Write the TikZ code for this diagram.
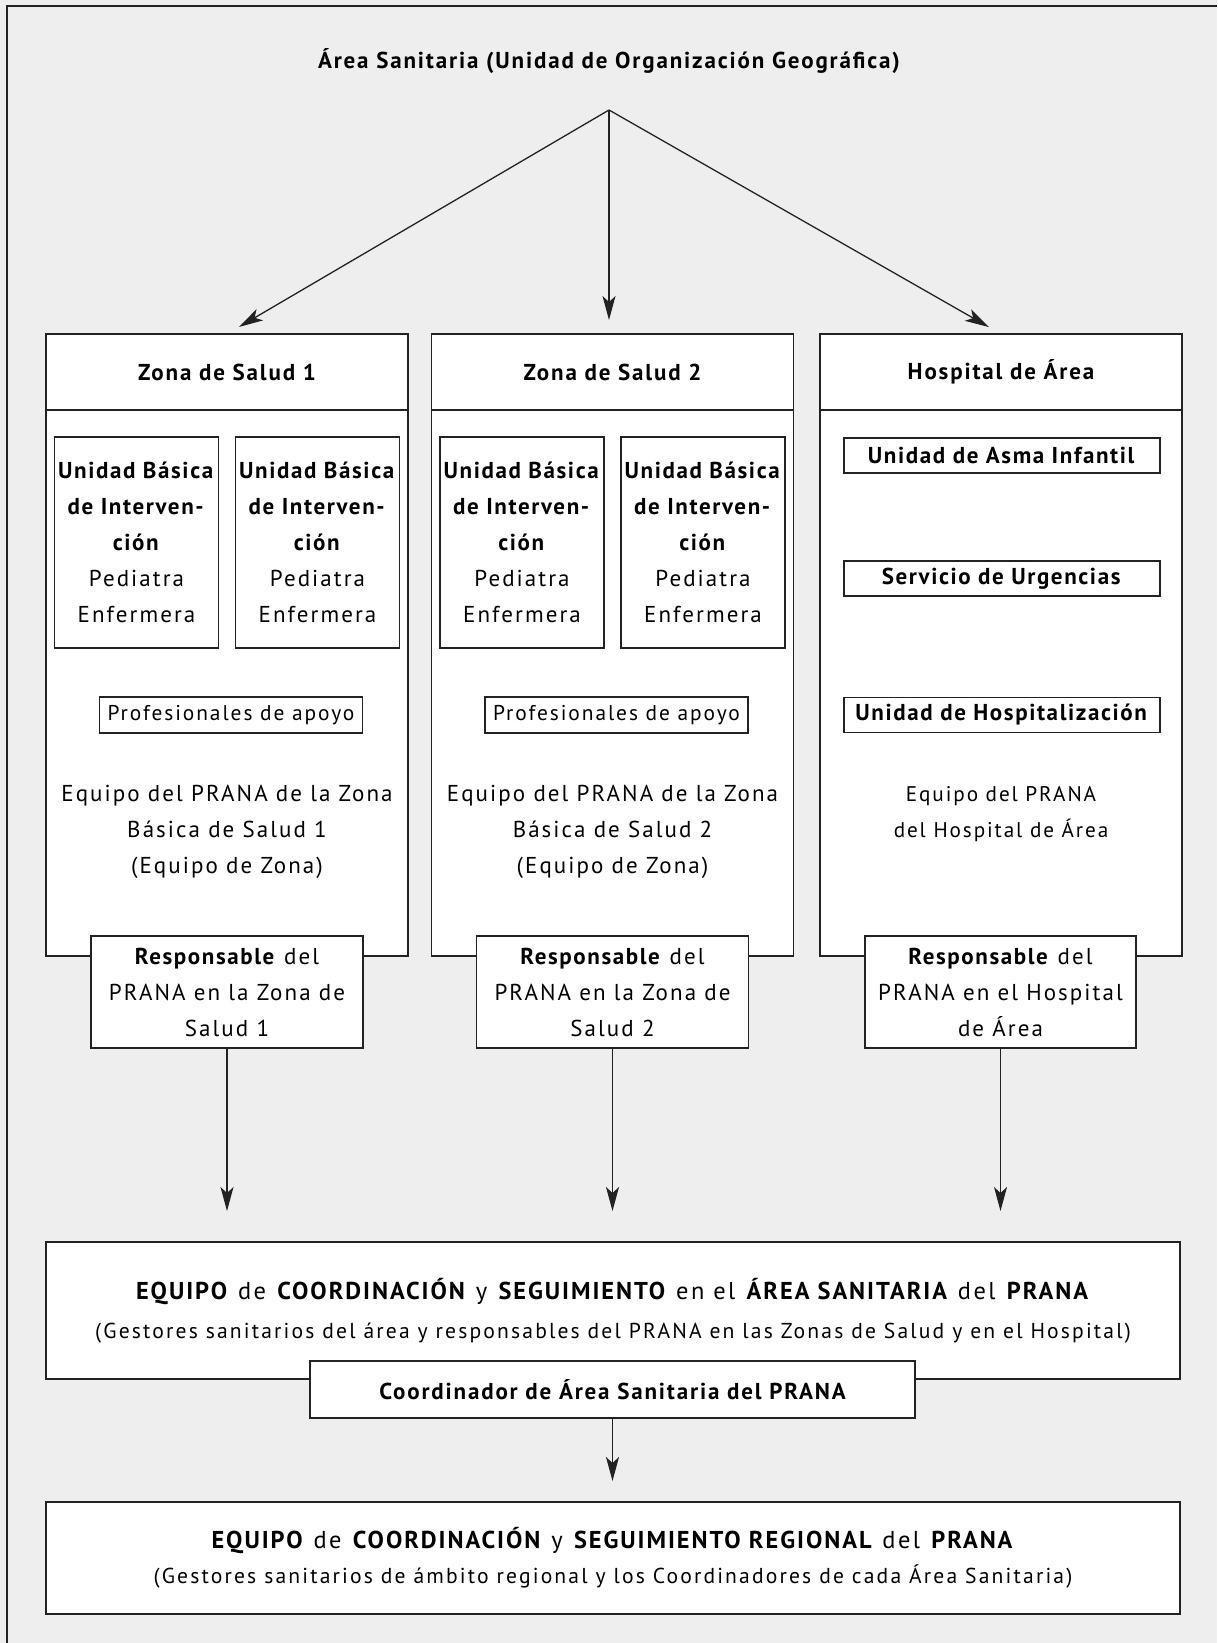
\documentclass[tikz,border=0pt]{standalone}
\usepackage{fontspec}
\setmainfont{PT Sans}
\newfontfamily\bodyfont{PT Sans}[LetterSpace=9, BoldFeatures={LetterSpace=7}]
\newfontfamily\headfont{PT Sans}[LetterSpace=10, BoldFeatures={LetterSpace=8}]
\usetikzlibrary{positioning,arrows.meta}
\definecolor{fondo}{HTML}{EEEEEE}
\definecolor{trazo}{HTML}{222222}

\begin{document}
\begin{tikzpicture}[%
                x=0.5pt, y=-0.5pt, line width=0.65pt,
                caja/.style={draw=trazo, fill=white, inner sep=0pt, outer sep=0pt, align=center},
                cuerpo/.style={font=\bodyfont\fontsize{11.5}{18}\selectfont, align=center},
                cabeza/.style={font=\headfont\bfseries\fontsize{11.5}{18}\selectfont},
                flecha/.style={draw=trazo, -{Stealth[length=12pt,width=6.5pt,inset=3pt]}}
        ]
            \fill [fondo] (0,0) rectangle (1217,1643);
            \useasboundingbox (0,0) rectangle (1217,1643);
            \draw [trazo] (7,1643) -- (7,6) -- (1217,6);

            \node [cabeza] (titulo) at (609,61) {Área Sanitaria (Unidad de Organización Geográfica)};
            \coordinate (vertice) at (609,110);

            % zonas y hospital
            \foreach \n/\x/\t in {1/227/Zona de Salud 1, 2/612.5/Zona de Salud 2, 3/1001/Hospital de Área} {
                \node [caja, cabeza, minimum width=181pt, minimum height=38pt] (cab\n) at (\x,372) {\t};
                \node [caja, minimum width=181pt, minimum height=273pt, below=0pt of cab\n] (zona\n) {};
            }
            \draw [flecha, shorten >=7pt] (vertice) -- (cab1.north);
            \draw [flecha, shorten >=7pt] (vertice) -- (vertice |- cab2.north);
            \draw [flecha, shorten >=7pt] (vertice) -- (cab3.north);

            \foreach \k/\x in {1a/136.5, 1b/317.5, 2a/522, 2b/703} {
                \node [caja, cuerpo, minimum width=82pt, minimum height=105.5pt] (ubi\k) at (\x,542.5)
                    {\textbf{Unidad Básica}\\\textbf{de Interven-}\\\textbf{ción}\\Pediatra\\Enfermera};
            }
            \foreach \n/\x in {1/227, 2/612.5} {
                \node [caja, cuerpo, font=\bodyfont\fontsize{10.7}{18}\selectfont, minimum width=131.5pt, minimum height=18pt] (apoyo\n) at (\x+4,715) {Profesionales de apoyo};
                \node [cuerpo] (equipo\n) at (\x,832) {Equipo del PRANA de la Zona\\Básica de Salud \n\\(Equipo de Zona)};
                \node [caja, cuerpo, minimum width=136pt, minimum height=56pt] (resp\n) at (\x,992)
                    {\textbf{Responsable} del\\PRANA en la Zona de\\Salud \n};
            }

            \foreach \k/\y/\t in {asma/455.5/Unidad de Asma Infantil, urgencias/578.5/Servicio de Urgencias, planta/715/Unidad de Hospitalización} {
                \node [caja, cuerpo, minimum width=158pt, minimum height=17.5pt] (\k) at (1002,\y) {\textbf{\t}};
            }
            \node [cuerpo, font=\bodyfont\fontsize{10.6}{18}\selectfont] (equipo3) at (1001,814) {Equipo del PRANA\\del Hospital de Área};
            \node [caja, cuerpo, minimum width=135.5pt, minimum height=56pt] (resp3) at (1000.5,992)
                {\textbf{Responsable} del\\PRANA en el Hospital\\de Área};

            % coordinacion
            \node [caja, font=\headfont\fontsize{10.8}{19.5}\selectfont, minimum width=567pt, minimum height=68.5pt] (area) at (613,1310.5)
                {{\fontsize{12.2}{19.5}\selectfont\textbf{EQUIPO} de \textbf{COORDINACIÓN} y \textbf{SEGUIMIENTO} en el \textbf{ÁREA SANITARIA} del \textbf{PRANA}}\\
                 (Gestores sanitarios del área y responsables del PRANA en las Zonas de Salud y en el Hospital)};
            \node [caja, cabeza, minimum width=302.5pt, minimum height=28.5pt] (coord) at (612.5,1389.5) {Coordinador de Área Sanitaria del PRANA};
            \node [caja, font=\headfont\fontsize{10.8}{17.5}\selectfont, minimum width=567pt, minimum height=56pt] (regional) at (613,1558)
                {{\fontsize{12.2}{17.5}\selectfont\textbf{EQUIPO} de \textbf{COORDINACIÓN} y \textbf{SEGUIMIENTO REGIONAL} del \textbf{PRANA}}\\
                 (Gestores sanitarios de ámbito regional y los Coordinadores de cada Área Sanitaria)};

            \foreach \n in {1,2,3} {
                \draw [flecha, shorten >=15.5pt] (resp\n.south) -- (resp\n.south |- area.north);
            }
            \draw [flecha, shorten >=10.5pt] (coord.south) -- (coord.south |- regional.north);
        \end{tikzpicture}
\end{document}
